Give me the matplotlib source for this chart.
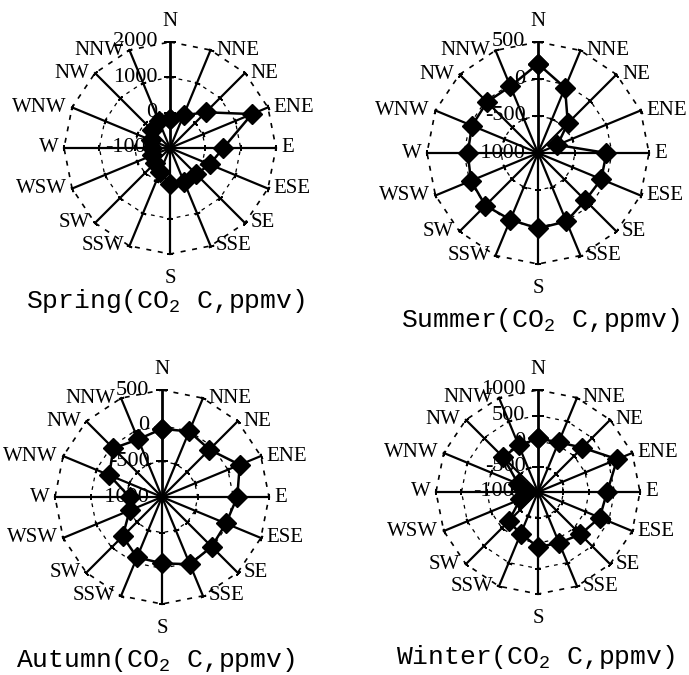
import numpy as np
import matplotlib
matplotlib.use('Agg')
import matplotlib.pyplot as plt

plt.rcParams['mathtext.fontset'] = 'custom'
plt.rcParams['mathtext.rm'] = 'Liberation Mono'
plt.rcParams['font.family'] = 'Liberation Serif'

dirs = ['N', 'NNE', 'NE', 'ENE', 'E', 'ESE', 'SE', 'SSE',
        'S', 'SSW', 'SW', 'WSW', 'W', 'WNW', 'NW', 'NNW']

spring = [-175, 0, 430, 1510, 510, 215, 50, 40, 10, -260, -400, -450, -480, -410, -260, -165]
summer = [205, -45, -430, -715, -75, -75, -95, 0, 20, -25, 5, -20, -50, -35, -25, -25]
autumn = [-45, -5, -60, 180, 55, -30, -15, 20, -70, -85, -220, -510, -545, -200, -35, -125]
winter = [50, 55, 230, 680, 355, 310, 175, 80, 80, -115, -185, -620, -780, -580, -35, -10]

spring_ticks = [-1000, 0, 1000, 2000]
summer_ticks = [-1000, -500, 0, 500]
autumn_ticks = [-1000, -500, 0, 500]
winter_ticks = [-1000, -500, 0, 500, 1000]

W, H = 689, 675
fig = plt.figure(figsize=(W/100, H/100), dpi=100)
fig.patch.set_facecolor('white')


def panel(cx, cy, r, vals, ticks, title, tx, ty):
    ax = fig.add_axes([(cx-r)/W, 1-(cy+r)/H, 2*r/W, 2*r/H], projection='polar')
    ax.set_theta_zero_location('N')
    ax.set_theta_direction(-1)
    ax.set_ylim(ticks[0], ticks[-1])
    ax.set_axis_off()
    th = np.arange(16)*2*np.pi/16
    # gridline polygons
    for t in ticks[1:]:
        ax.plot(np.append(th, th[0]), [t]*17, ls=(0, (3, 4)), lw=1.2 if t == ticks[-1] else 0.9,
                color='k', clip_on=False)
    # spokes with small ticks
    for i, a in enumerate(th):
        ax.plot([a, a], [ticks[0], ticks[-1]], color='k', lw=1.6 if i else 2.0, clip_on=False)
        ax.plot([a]*(len(ticks)-1), ticks[1:], ls='none', marker=(2, 2, 90-22.5*i),
                ms=4 if i else 9, mec='k', mew=1.2, clip_on=False)
        deg = 22.5*i
        if deg == 0:
            ha, va, off = 'center', 'bottom', (0, 8)
        elif deg == 180:
            ha, va, off = 'center', 'top', (0, -11)
        elif deg < 180:
            ha, va, off = 'left', 'center', (4, 0)
        else:
            ha, va, off = 'right', 'center', (-4, 0)
        ax.annotate(dirs[i], (a, ticks[-1]), xytext=off, textcoords='offset points',
                    ha=ha, va=va, fontsize=15, annotation_clip=False)
    # value axis labels
    for t in ticks:
        ax.annotate(str(t), (0, t), xytext=(-9, 0), textcoords='offset points',
                    ha='right', va='center', fontsize=16, annotation_clip=False)
    # data
    ax.plot(np.append(th, th[0]), list(vals) + [vals[0]], color='k', lw=1.8,
            marker='D', ms=10, mfc='k', mec='k', clip_on=False, zorder=5)
    fig.text(tx/W, 1-ty/H, title, ha='center', va='center',
             family='Liberation Mono', fontsize=19)


panel(170, 148, 106, spring, spring_ticks, r'Spring(CO$_\mathrm{2}$ C,ppmv)', 165, 301)
panel(538, 153, 111, summer, summer_ticks, r'Summer(CO$_\mathrm{2}$ C,ppmv)', 540, 320)
panel(162, 497, 107, autumn, autumn_ticks, r'Autumn(CO$_\mathrm{2}$ C,ppmv)', 155, 660)
panel(538, 492, 102, winter, winter_ticks, r'Winter(CO$_\mathrm{2}$ C,ppmv)', 535, 657)

fig.savefig('out.png', dpi=100)
